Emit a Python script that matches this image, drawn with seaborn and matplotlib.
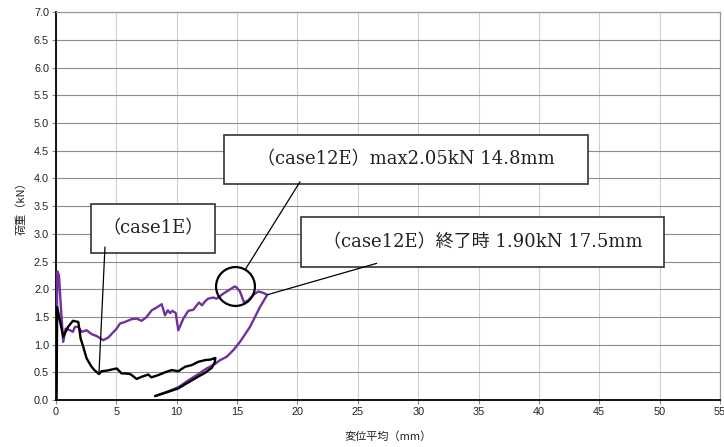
import matplotlib
matplotlib.use("Agg")
import matplotlib.pyplot as plt
from matplotlib.patches import Rectangle
from matplotlib.ticker import FormatStrFormatter, MultipleLocator
import seaborn as sns

# Load-displacement curves (displacement mm, load kN)
case1e_x = [0.05, 0.1, 0.6, 1.0, 1.4, 1.85, 2.04, 2.26, 2.54, 2.95, 3.23, 3.56,
            3.78, 4.2, 4.61, 5.03, 5.44, 5.72, 6.13, 6.27, 6.68, 7.1, 7.65, 7.9,
            8.48, 9.03, 9.59, 10.13, 10.69, 11.24, 11.79, 12.34, 12.8, 13.2,
            13.15, 12.9, 12.34, 11.6, 10.9, 10.13, 9.2, 8.2]
case1e_y = [0.02, 1.68, 1.14, 1.32, 1.43, 1.41, 1.11, 0.96, 0.75, 0.60, 0.53, 0.47,
            0.52, 0.53, 0.55, 0.57, 0.48, 0.48, 0.47, 0.45, 0.38, 0.42, 0.46, 0.41,
            0.45, 0.50, 0.54, 0.52, 0.60, 0.63, 0.69, 0.72, 0.73, 0.76,
            0.68, 0.58, 0.49, 0.40, 0.31, 0.21, 0.14, 0.07]

case12e_x = [0.0, 0.12, 0.25, 0.4, 0.6, 0.8, 1.16, 1.4, 1.57, 1.85, 2.13, 2.54,
             2.95, 3.37, 3.92, 4.34, 5.03, 5.3, 5.72, 6.27, 6.68, 7.1, 7.51, 7.93,
             8.34, 8.76, 9.03, 9.26, 9.45, 9.64, 9.92, 10.13, 10.55, 10.96, 11.38,
             11.66, 11.85, 12.1, 12.34, 12.6, 13.03, 13.3, 13.73, 14.14, 14.8,
             14.97, 15.24, 15.58, 15.93, 16.35, 16.76, 17.1, 17.5,
             16.9, 16.07, 15.24, 14.69, 14.14, 13.59, 13.17, 12.48, 11.8, 11.0,
             10.13, 9.2, 8.3]
case12e_y = [0.05, 2.32, 2.25, 1.70, 1.05, 1.29, 1.26, 1.23, 1.32, 1.32, 1.23, 1.26,
             1.19, 1.155, 1.08, 1.13, 1.29, 1.38, 1.41, 1.46, 1.47, 1.43, 1.50, 1.62,
             1.67, 1.73, 1.53, 1.62, 1.57, 1.61, 1.57, 1.26, 1.47, 1.61, 1.63,
             1.71, 1.76, 1.71, 1.78, 1.83, 1.85, 1.83, 1.90, 1.96, 2.05,
             2.03, 1.96, 1.76, 1.80, 1.90, 1.96, 1.94, 1.90,
             1.68, 1.32, 1.05, 0.90, 0.78, 0.72, 0.65, 0.57, 0.47, 0.36,
             0.23, 0.15, 0.08]

# Key points quoted in the callouts
max_disp, max_load = 14.8, 2.05
end_disp, end_load = 17.5, 1.90
case1e_min_disp, case1e_min_load = 3.56, 0.47

x_ticks = list(range(0, 56, 5))
label_case1e = "（case1E）"
label_max = f"（case12E）max{max_load:.2f}kN {max_disp:.1f}mm"
label_end = f"（case12E）終了時 {end_load:.2f}kN {end_disp:.1f}mm"

sns.set_theme(style="white")
plt.rcParams["font.family"] = ["Liberation Sans", "Noto Sans CJK JP"]
serif = ["DejaVu Serif", "Noto Sans CJK JP"]
cjk = ["Noto Sans CJK JP", "DejaVu Sans"]

purple = "#7030A0"

fig = plt.figure(figsize=(7.24, 4.47), dpi=100)
ax = fig.add_axes([0.0773, 0.1051, 0.9172, 0.8674])

sns.lineplot(x=case12e_x, y=case12e_y, sort=False, estimator=None,
             color=purple, lw=1.7, ax=ax, zorder=3)
sns.lineplot(x=case1e_x, y=case1e_y, sort=False, estimator=None,
             color="black", lw=1.7, ax=ax, zorder=4)

ax.set_xlim(0, 55)
ax.set_ylim(0, 7)
ax.set_xticks(x_ticks)
ax.yaxis.set_major_locator(MultipleLocator(0.5))
ax.yaxis.set_major_formatter(FormatStrFormatter("%.1f"))
ax.set_xlabel("")
ax.set_ylabel("")

ax.set_axisbelow(True)
ax.yaxis.grid(True, color="#8c8c8c", lw=0.8)
ax.xaxis.grid(True, color="#cfcfcf", lw=0.8)
for side in ("left", "bottom"):
    ax.spines[side].set_color("black")
    ax.spines[side].set_linewidth(1.3)
for side in ("top", "right"):
    ax.spines[side].set_color("#999999")
    ax.spines[side].set_linewidth(0.9)

ax.tick_params(axis="both", length=3, width=0.8, color="#888888",
               labelsize=7.8, labelcolor="#222222", pad=2,
               bottom=True, left=True)

fig.text(0.029, 1 - 206 / 447, "荷重（kN）", rotation=90, ha="center",
         va="center", fontsize=8, family=cjk, color="#222222")
fig.text(388 / 724, 1 - 437 / 447, "変位平均（mm）", ha="center",
         va="center", fontsize=8, family=cjk, color="#222222")

# Circle around the peak of case12E
ax.plot([max_disp], [max_load], marker="o", ms=28, mfc="none",
        mec="black", mew=1.6, zorder=6)

# Callout boxes (axes fraction: x0, y0, x1, y1)
boxes = [
    ((0.0527, 0.379, 0.2395, 0.5055), label_case1e),
    ((0.253, 0.557, 0.801, 0.6835), label_max),
    ((0.369, 0.343, 0.9157, 0.472), label_end),
]
for (x0, y0, x1, y1), text in boxes:
    ax.add_patch(Rectangle((x0, y0), x1 - x0, y1 - y0, transform=ax.transAxes,
                           facecolor="white", edgecolor="#333333", lw=1.2,
                           zorder=7, clip_on=False))
    ax.text((x0 + x1) / 2, (y0 + y1) / 2, text, transform=ax.transAxes,
            ha="center", va="center", fontsize=13, family=serif,
            color="#222222", zorder=8)

leader = dict(arrowstyle="-", color="black", lw=0.9, shrinkA=0)
ax.annotate("", xy=(case1e_min_disp, case1e_min_load), xycoords="data",
            xytext=(0.0738, 0.3946), textcoords="axes fraction",
            arrowprops=dict(leader, shrinkB=0), zorder=9)
ax.annotate("", xy=(max_disp, max_load), xycoords="data",
            xytext=(0.3675, 0.5628), textcoords="axes fraction",
            arrowprops=dict(leader, shrinkB=14), zorder=9)
ax.annotate("", xy=(end_disp, end_load), xycoords="data",
            xytext=(0.483, 0.3525), textcoords="axes fraction",
            arrowprops=dict(leader, shrinkB=0), zorder=9)

fig.savefig("out.png", dpi=100)
